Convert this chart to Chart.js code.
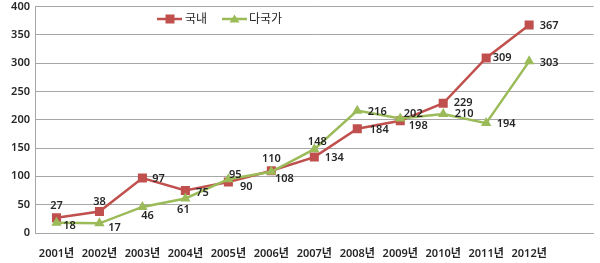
<!DOCTYPE html>
<html lang="ko">
<head>
  <meta charset="UTF-8" />
  <title>국내 / 다국가</title>
  <script src="https://cdn.jsdelivr.net/npm/chart.js"></script>
  <style>
    body {
      margin: 0;
      padding: 0;
      background: #fff;
    }
    #chart {
      display: block;
    }
  </style>
</head>
<body>
  <canvas id="chart" width="600" height="263"></canvas>

  <script>
    const years = ['2001년', '2002년', '2003년', '2004년', '2005년', '2006년',
                   '2007년', '2008년', '2009년', '2010년', '2011년', '2012년'];
    const domestic = [27, 38, 97, 75, 90, 110, 134, 184, 198, 229, 309, 367];
    const multinational = [18, 17, 46, 61, 95, 108, 148, 216, 202, 210, 194, 303];
    const yTicks = [0, 50, 100, 150, 200, 250, 300, 350, 400];

    // where each value label sits relative to its point (dx, dy)
    const domesticLabelPos = [[0, -12], [0, -10], [16, 1], [17, 2], [18, 5], [0, -12],
                              [20, 1], [22, 1], [18, 5], [20, 0], [16, 0], [20, 1]];
    const multiLabelPos = [[13, 3], [15, 4], [5, 9], [-2, 11], [7, -4], [13, 7],
                           [3, -7], [20, 1], [13, -5], [21, 0], [20, 1], [20, 2]];

    const RED = '#c0504d';
    const GREEN = '#9bbb59';
    const FONT = "'Noto Sans', 'Noto Sans CJK KR', sans-serif";

    const valueLabels = {
      id: 'valueLabels',
      afterDatasetsDraw(chart) {
        const ctx = chart.ctx;
        ctx.save();
        ctx.font = '600 11px ' + FONT;
        ctx.fillStyle = '#262626';
        ctx.textAlign = 'center';
        ctx.textBaseline = 'middle';
        chart.data.datasets.forEach((ds, di) => {
          const meta = chart.getDatasetMeta(di);
          const pos = ds.labelPos;
          meta.data.forEach((pt, i) => {
            ctx.fillText(String(ds.data[i]), pt.x + pos[i][0], pt.y + pos[i][1]);
          });
        });
        ctx.restore();
      }
    };

    const customLegend = {
      id: 'customLegend',
      afterDraw(chart) {
        const ctx = chart.ctx;
        const y = 19;
        ctx.save();
        ctx.lineWidth = 2.5;
        // 국내
        ctx.strokeStyle = RED;
        ctx.beginPath(); ctx.moveTo(157, y); ctx.lineTo(182, y); ctx.stroke();
        ctx.fillStyle = RED;
        ctx.fillRect(165.5, y - 4.5, 9, 9);
        // 다국가
        ctx.strokeStyle = GREEN;
        ctx.beginPath(); ctx.moveTo(222, y); ctx.lineTo(247, y); ctx.stroke();
        ctx.fillStyle = GREEN;
        ctx.beginPath();
        ctx.moveTo(234.5, y - 4.5); ctx.lineTo(239.5, y + 3.5); ctx.lineTo(229.5, y + 3.5);
        ctx.closePath(); ctx.fill();
        ctx.font = '12px ' + FONT;
        ctx.fillStyle = '#262626';
        ctx.textBaseline = 'middle';
        ctx.fillText('국내', 185, y + 1);
        ctx.fillText('다국가', 249, y + 1);
        ctx.restore();
      }
    };

    new Chart(document.getElementById('chart'), {
      type: 'line',
      data: {
        labels: [...years, ''],
        datasets: [
          {
            label: '국내',
            data: domestic,
            labelPos: domesticLabelPos,
            borderColor: RED,
            backgroundColor: RED,
            borderWidth: 2.5,
            pointStyle: 'rect',
            pointRadius: 6.4,
            pointBorderWidth: 0,
            tension: 0,
            order: 1
          },
          {
            label: '다국가',
            data: multinational,
            labelPos: multiLabelPos,
            borderColor: GREEN,
            backgroundColor: GREEN,
            borderWidth: 2.5,
            pointStyle: 'triangle',
            pointRadius: 6,
            pointBorderWidth: 0,
            tension: 0,
            order: 0
          }
        ]
      },
      options: {
        responsive: false,
        animation: false,
        layout: { padding: { top: 0, right: 3, left: 0, bottom: 0 } },
        plugins: {
          legend: { display: false },
          tooltip: { enabled: false }
        },
        scales: {
          x: {
            offset: true,
            grid: { display: false, drawTicks: false },
            border: { display: true, color: '#a6a6a6', width: 1 },
            ticks: {
              autoSkip: false,
              maxRotation: 0,
              padding: 14,
              color: '#262626',
              font: { family: FONT, size: 11, weight: '600' }
            },
            afterFit(scale) { scale.height = 30; }
          },
          y: {
            min: 0,
            max: 400,
            afterBuildTicks(scale) { scale.ticks = yTicks.map(v => ({ value: v })); },
            grid: { color: '#a6a6a6', drawTicks: false },
            border: { display: true, color: '#a6a6a6', width: 1 },
            ticks: {
              padding: 5,
              color: '#262626',
              font: { family: FONT, size: 11, weight: '600' }
            },
            afterFit(scale) {
              scale.width = 35;
              scale.paddingTop = 6;
              scale.paddingBottom = 0;
            }
          }
        }
      },
      plugins: [valueLabels, customLegend]
    });
  </script>
</body>
</html>
